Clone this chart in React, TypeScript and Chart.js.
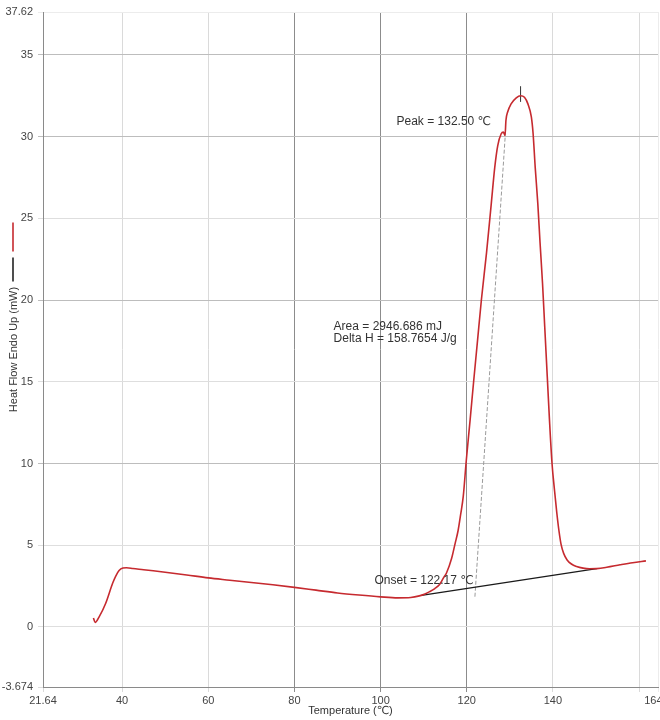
import { useEffect, useRef } from 'react';
import { Chart, registerables } from 'chart.js';

Chart.register(...registerables);

// DSC heat-flow curve (red)
const temperatureC = [
  33.35, 33.75, 34.7, 36.2, 37.8, 38.5, 39.3, 40.2, 41.0, 42.5, 45, 50, 55, 60, 65, 70, 75, 80, 85, 90, 95, 100,
  104, 107, 109, 110.3, 111.4, 112.6, 113.7, 114.6, 115.3, 116.5, 117.3, 118.0, 118.6, 119.2, 119.9, 120.8, 121.6,
  122.5, 123.4, 124.6, 125.7, 126.5, 127.2, 128.0, 128.5, 128.9, 129.1, 129.5, 130.3, 131.5, 132.5, 133.4, 134.2,
  135.0, 135.4, 135.9, 136.5, 137.0, 137.6, 138.1, 138.7, 139.2, 139.8, 140.4, 140.9, 141.4, 141.9, 142.5, 143.3,
  144.3, 145.5, 147.0, 148.5, 150.2, 152.5, 155.6, 158.5, 161.6,
];
const heatFlowMW = [
  0.55, 0.27, 0.63, 1.45, 2.67, 3.1, 3.45, 3.6, 3.62, 3.58, 3.5, 3.35, 3.18, 3.0, 2.86, 2.72, 2.58, 2.42, 2.25, 2.08,
  1.95, 1.84, 1.78, 1.8, 1.9, 2.02, 2.16, 2.35, 2.6, 3.0, 3.3, 4.2, 5.1, 5.9, 6.9, 8.0, 10.2, 12.7, 15.0, 17.5, 20.0,
  22.9, 25.9, 28.1, 29.45, 30.17, 30.27, 30.07, 30.98, 31.5, 32.0, 32.37, 32.5, 32.4, 32.0, 31.2, 30.2, 28.1, 25.9,
  23.6, 21.0, 18.4, 15.3, 12.7, 10.0, 8.3, 7.0, 5.9, 5.05, 4.5, 4.1, 3.85, 3.7, 3.6, 3.56, 3.57, 3.65, 3.8, 3.93,
  4.04,
];

// integration baseline (black)
const baselineTemp = [109.5, 150.2];
const baselineFlow = [1.93, 3.57];

// onset tangent (thin grey)
const tangentTemp = [121.9, 129.0];
const tangentFlow = [1.85, 30.3];

// peak marker
const peakMarkTemp = [132.5, 132.5];
const peakMarkFlow = [32.12, 33.08];

// axis ticks
const xTickValues = [21.64, 40, 60, 80, 100, 120, 140, 160, 164.4];
const xTickLabels = ['21.64', '40', '60', '80', '100', '120', '140', '', '164.4'];
const yTickValues = [-3.674, 0, 5, 10, 15, 20, 25, 30, 35, 37.62];
const yTickLabels = ['-3.674', '0', '5', '10', '15', '20', '25', '30', '35', '37.62'];

// annotation texts and their anchors (data units)
const noteTexts = ['Peak = 132.50 ℃', 'Area = 2946.686 mJ', 'Delta H = 158.7654 J/g', 'Onset = 122.17 ℃'];
const noteTemp = [103.7, 89.1, 89.1, 98.6];
const noteFlow = [30.9, 18.36, 17.63, 2.8];

const FONT = "'Liberation Sans', Arial, 'DejaVu Sans', sans-serif";
const RED = '#c62a2f';

const pairs = (xs: number[], ys: number[]) => xs.map((x, i) => ({ x, y: ys[i] }));

const overlayPlugin = {
  id: 'overlay',
  afterDraw(chart: any) {
    const { ctx, chartArea, scales } = chart;
    const xs = scales.x;
    const ys = scales.y;
    ctx.save();
    ctx.font = `12px ${FONT}`;
    ctx.fillStyle = '#333';
    ctx.textAlign = 'left';
    ctx.textBaseline = 'middle';
    noteTexts.forEach((t, i) => {
      ctx.fillText(t, xs.getPixelForValue(noteTemp[i]), ys.getPixelForValue(noteFlow[i]));
    });
    // legend swatches next to the y-axis title
    const cx = 13;
    const cy = (chartArea.top + chartArea.bottom) / 2;
    ctx.lineWidth = 1.6;
    ctx.strokeStyle = RED;
    ctx.beginPath();
    ctx.moveTo(cx, cy - 127);
    ctx.lineTo(cx, cy - 98);
    ctx.stroke();
    ctx.strokeStyle = '#222';
    ctx.beginPath();
    ctx.moveTo(cx, cy - 92);
    ctx.lineTo(cx, cy - 68);
    ctx.stroke();
    ctx.restore();
  },
};

export default function App() {
  const ref = useRef<HTMLCanvasElement | null>(null);

  useEffect(() => {
    if (!ref.current) return;
    const chart = new Chart(ref.current, {
      type: 'line',
      data: {
        datasets: [
          {
            data: pairs(temperatureC, heatFlowMW),
            borderColor: RED,
            borderWidth: 1.6,
            pointRadius: 0,
            cubicInterpolationMode: 'monotone',
            fill: false,
          },
          {
            data: pairs(baselineTemp, baselineFlow),
            borderColor: '#1a1a1a',
            borderWidth: 1.4,
            pointRadius: 0,
            fill: false,
          },
          {
            data: pairs(tangentTemp, tangentFlow),
            borderColor: '#9a9a9a',
            borderWidth: 1,
            borderDash: [4, 2],
            pointRadius: 0,
            fill: false,
          },
          {
            data: pairs(peakMarkTemp, peakMarkFlow),
            borderColor: '#333',
            borderWidth: 1,
            pointRadius: 0,
            fill: false,
          },
        ],
      },
      options: {
        animation: false,
        responsive: true,
        maintainAspectRatio: false,
        layout: { padding: { top: 12, right: 2, bottom: 0, left: 0 } },
        plugins: {
          legend: { display: false },
          tooltip: { enabled: false },
        },
        scales: {
          x: {
            type: 'linear',
            min: 21.64,
            max: 164.4,
            afterBuildTicks: (scale: any) => {
              scale.ticks = xTickValues.map((value) => ({ value }));
            },
            afterFit: (scale: any) => {
              scale.height = 33;
              scale.paddingLeft = 0;
              scale.paddingRight = 0;
            },
            ticks: {
              autoSkip: false,
              maxRotation: 0,
              padding: 2,
              color: '#444',
              font: { family: FONT, size: 11 },
              callback: (_v: any, i: number) => xTickLabels[i],
            },
            grid: {
              tickLength: 5,
              color: (c: any) => {
                const v = c.tick ? c.tick.value : 0;
                if (v === 80 || v === 100 || v === 120) return '#8c8c8c';
                if (v === 164.4) return '#ececec';
                return '#dadada';
              },
            },
            border: { color: '#8a8a8a', width: 1 },
            title: {
              display: true,
              text: 'Temperature (℃)',
              color: '#333',
              font: { family: FONT, size: 11 },
              padding: { top: 0, bottom: 2 },
            },
          },
          y: {
            type: 'linear',
            min: -3.674,
            max: 37.62,
            afterBuildTicks: (scale: any) => {
              scale.ticks = yTickValues.map((value) => ({ value }));
            },
            afterFit: (scale: any) => {
              scale.width = 43;
            },
            ticks: {
              autoSkip: false,
              padding: 5,
              color: '#444',
              font: { family: FONT, size: 11 },
              callback: (_v: any, i: number) => yTickLabels[i],
            },
            grid: {
              tickLength: 5,
              color: (c: any) => {
                const v = c.tick ? c.tick.value : 0;
                if (v === 35 || v === 30 || v === 20 || v === 10) return '#bdbdbd';
                if (v === 37.62) return '#ececec';
                return '#dedede';
              },
            },
            border: { color: '#8a8a8a', width: 1 },
            title: {
              display: true,
              text: 'Heat Flow Endo Up (mW)',
              color: '#333',
              font: { family: FONT, size: 11 },
              padding: { top: 7, bottom: 0 },
            },
          },
        },
      },
      plugins: [overlayPlugin],
    } as any);
    return () => chart.destroy();
  }, []);

  return (
    <div style={{ position: 'absolute', left: 0, top: 0, width: 660, height: 720, background: '#fff' }}>
      <canvas ref={ref} />
    </div>
  );
}
